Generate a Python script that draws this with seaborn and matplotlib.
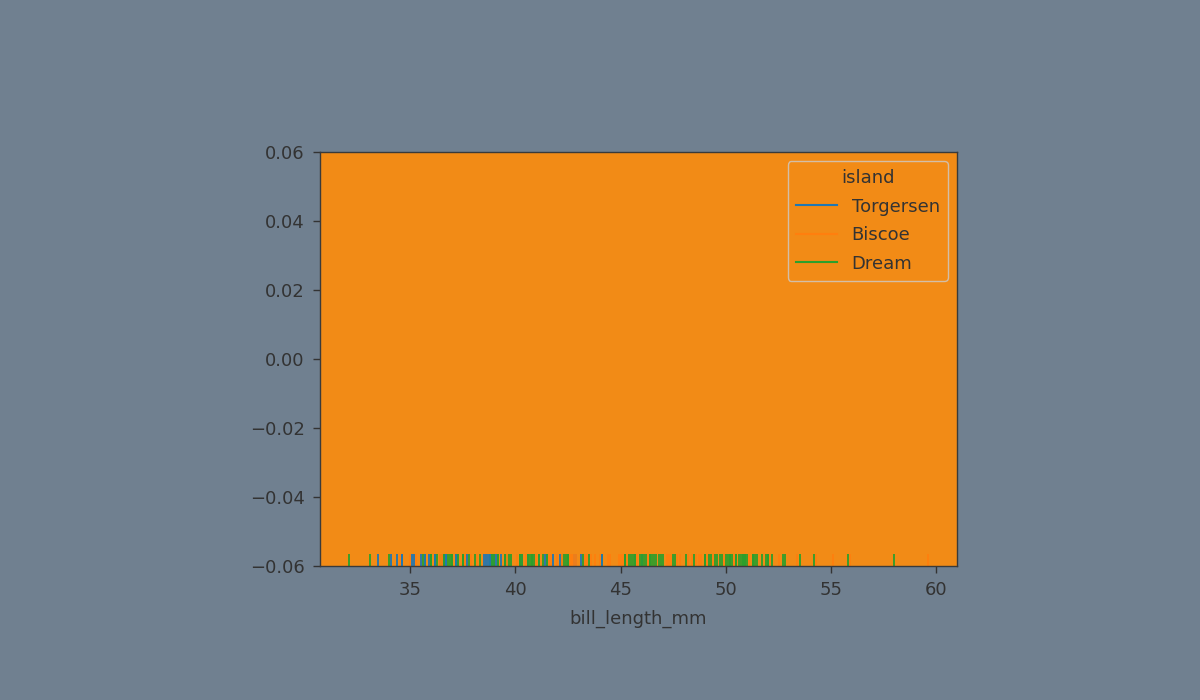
import pandas as pd
import matplotlib.pyplot as plt
import seaborn as sns

# bill_length_mm of the penguins dataset, in row order, one list per block
torgersen_1 = [39.1, 39.5, 40.3, 36.7, 39.3, 38.9, 39.2, 34.1, 42.0, 37.8,
               37.8, 41.1, 38.6, 34.6, 36.6, 38.7, 42.5, 34.4, 46.0]
biscoe_1 = [37.8, 37.7, 35.9, 38.2, 38.8, 35.3, 40.6, 40.5, 37.9, 40.5]
dream_1 = [39.5, 37.2, 39.5, 40.9, 36.4, 39.2, 38.8, 42.2, 37.6, 39.8,
           36.5, 40.8, 36.0, 44.1, 37.0, 39.6, 41.1, 37.5, 36.0, 42.3]
biscoe_2 = [39.6, 40.1, 35.0, 42.0, 34.5, 41.4, 39.0, 40.6, 36.5, 37.6,
            35.7, 41.3, 37.6, 41.1, 36.4, 41.6, 35.5, 41.1]
torgersen_2 = [35.9, 41.8, 33.5, 39.7, 39.6, 45.8, 35.5, 42.8, 40.9, 37.2,
               36.2, 42.1, 34.6, 42.9, 36.7, 35.1]
dream_2 = [37.3, 41.3, 36.3, 36.9, 38.3, 38.9, 35.7, 41.1, 34.0, 39.6,
           36.2, 40.8, 38.1, 40.3, 33.1, 43.2]
biscoe_3 = [35.0, 41.0, 37.7, 37.8, 37.9, 39.7, 38.6, 38.2, 38.1, 43.2,
            38.1, 45.6, 39.7, 42.2, 39.6, 42.7]
torgersen_3 = [38.6, 37.3, 35.7, 41.1, 36.2, 37.7, 40.2, 41.4, 35.2, 40.6,
               38.8, 41.5, 39.0, 44.1, 38.5, 43.1]
dream_3 = [36.8, 37.5, 38.1, 41.1, 35.6, 40.2, 37.0, 39.7, 40.2, 40.6,
           32.1, 40.7, 37.3, 39.0, 39.2, 36.6, 36.0, 37.8, 36.0, 41.5]
biscoe_gentoo = [46.1, 50.0, 48.7, 50.0, 47.6, 46.5, 45.4, 46.7, 43.3, 46.8,
                 40.9, 49.0, 45.5, 48.4, 45.8, 49.3, 42.0, 49.2, 46.2, 48.7,
                 50.2, 45.1, 46.5, 46.3, 42.9, 46.1, 44.5, 47.8, 48.2, 50.0,
                 47.3, 42.8, 45.1, 59.6, 49.1, 48.4, 42.6, 44.4, 44.0, 48.7,
                 42.7, 49.6, 45.3, 49.6, 50.5, 43.6, 45.5, 50.5, 44.9, 45.2,
                 46.6, 48.5, 45.1, 50.1, 46.5, 45.0, 43.8, 45.5, 43.2, 50.4,
                 45.3, 46.2, 45.7, 54.3, 45.8, 49.8, 46.2, 49.5, 43.5, 50.7,
                 47.7, 46.4, 48.2, 46.5, 46.4, 48.6, 47.5, 51.1, 45.2, 45.2,
                 49.1, 52.5, 47.4, 50.0, 44.9, 50.8, 43.4, 51.3, 47.5, 52.1,
                 47.5, 52.2, 45.5, 49.5, 44.5, 50.8, 49.4, 46.9, 48.4, 51.1,
                 48.5, 55.9, 47.2, 49.1, 47.3, 46.8, 41.7, 53.4, 43.3, 48.1,
                 50.5, 49.8, 43.5, 51.5, 46.2, 55.1, 44.5, 48.8, 47.2,
                 46.8, 50.4, 45.2, 49.9]
dream_chinstrap = [46.5, 50.0, 51.3, 45.4, 52.7, 45.2, 46.1, 51.3, 46.0, 51.3,
                   46.6, 51.7, 47.0, 52.0, 45.9, 50.5, 50.3, 58.0, 46.4, 49.2,
                   42.4, 48.5, 43.2, 50.6, 46.7, 52.0, 50.5, 49.5, 46.4, 52.8,
                   40.9, 54.2, 42.5, 51.0, 49.7, 47.5, 47.6, 52.0, 46.9, 53.5,
                   49.0, 46.2, 50.9, 45.5, 50.9, 50.8, 50.1, 49.0, 51.5, 49.8,
                   48.1, 51.4, 45.7, 50.7, 42.5, 52.2, 45.2, 49.3, 50.2, 45.6,
                   51.9, 46.8, 45.7, 55.8, 43.5, 49.6, 50.8, 50.2]

blocks = [
    ("Torgersen", torgersen_1), ("Biscoe", biscoe_1), ("Dream", dream_1),
    ("Biscoe", biscoe_2), ("Torgersen", torgersen_2), ("Dream", dream_2),
    ("Biscoe", biscoe_3), ("Torgersen", torgersen_3), ("Dream", dream_3),
    ("Biscoe", biscoe_gentoo), ("Dream", dream_chinstrap),
]
island_order = ["Torgersen", "Biscoe", "Dream"]

df = pd.concat([pd.DataFrame({"bill_length_mm": v, "island": k})
                for k, v in blocks], ignore_index=True)

text_color = "#333333"
bg_axes = "#f28b16"
plt.rcParams.update({
    "font.size": 13,
    "text.color": text_color,
    "axes.labelcolor": text_color,
    "xtick.color": text_color,
    "ytick.color": text_color,
    "xtick.major.size": 5,
    "ytick.major.size": 5,
    "xtick.major.pad": 6,
    "ytick.major.pad": 6,
    "xtick.major.width": 1.0,
    "ytick.major.width": 1.0,
    "axes.linewidth": 1.0,
    "axes.labelpad": 7.5,
    "axes.edgecolor": "#3a3a3a",
})

fig = plt.figure(figsize=(12, 7), dpi=100, facecolor="#708090")
ax = fig.add_axes([0.2667, 0.1914, 0.5308, 0.5914])
ax.set_facecolor(bg_axes)

sns.rugplot(data=df, x="bill_length_mm", hue="island",
            hue_order=island_order, height=0.028, linewidth=1.3, ax=ax)

ax.set_ylim(-0.06, 0.06)
sns.move_legend(ax, "upper right", facecolor=bg_axes,
                handlelength=2.3, labelspacing=0.58, borderpad=0.45)

fig.savefig("out.png", facecolor=fig.get_facecolor())
